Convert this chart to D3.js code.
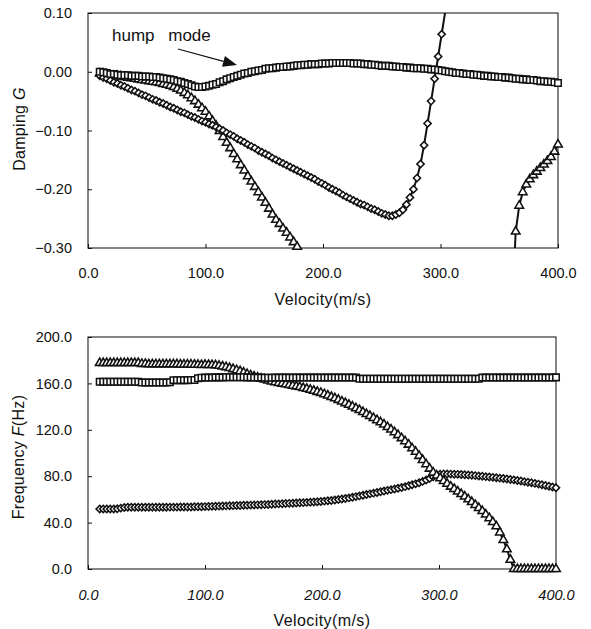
<!DOCTYPE html>
<html><head><meta charset="utf-8">
<script src="https://cdn.jsdelivr.net/npm/d3@7"></script>
<style>
body{margin:0;background:#fff}
svg{display:block;background:#fff}
text{font-family:"Liberation Sans",Arial,Helvetica,sans-serif;fill:#111}
</style>
</head><body>
<svg id="c" width="591" height="629"></svg>
<script>
// ---------------- data ----------------
const velocity = [
10,13,16,19,22,25,28,31,34,37,
40,43,46,49,52,55,58,61,64,67,
70,73,76,79,82,85,88,91,94,97,
100,103,106,109,112,115,118,121,124,127,
130,133,136,139,142,145,148,151,154,157,
160,163,166,169,172,175,178,181,184,187,
190,193,196,199,202,205,208,211,214,217,
220,223,226,229,232,235,238,241,244,247,
250,253,256,259,262,265,268,271,274,277,
280,283,286,289,292,295,298,301,304,307,
310,313,316,319,322,325,328,331,334,337,
340,343,346,349,352,355,358,361,364,367,
370,373,376,379,382,385,388,391,394,397,
400];

// Damping G — hump mode (squares)
const dampSquare = [
0.000,-0.001,-0.002,-0.004,-0.004,-0.005,-0.006,-0.006,-0.006,-0.007,
-0.007,-0.007,-0.008,-0.008,-0.008,-0.009,-0.009,-0.010,-0.011,-0.012,
-0.013,-0.014,-0.016,-0.017,-0.019,-0.021,-0.023,-0.025,-0.026,-0.026,
-0.025,-0.024,-0.022,-0.021,-0.018,-0.016,-0.013,-0.011,-0.009,-0.007,
-0.005,-0.003,-0.002,0.000,0.001,0.002,0.003,0.005,0.006,0.006,
0.007,0.008,0.008,0.009,0.009,0.010,0.011,0.011,0.012,0.012,
0.013,0.013,0.013,0.014,0.014,0.014,0.015,0.015,0.015,0.015,
0.015,0.015,0.014,0.014,0.014,0.013,0.013,0.012,0.012,0.011,
0.010,0.010,0.010,0.009,0.009,0.008,0.008,0.007,0.007,0.006,
0.006,0.006,0.005,0.005,0.004,0.004,0.003,0.002,0.001,0.000,
-0.001,-0.002,-0.002,-0.003,-0.004,-0.004,-0.005,-0.005,-0.006,-0.007,
-0.007,-0.008,-0.008,-0.009,-0.009,-0.010,-0.010,-0.011,-0.012,-0.012,
-0.013,-0.013,-0.014,-0.014,-0.015,-0.016,-0.016,-0.017,-0.017,-0.018,
-0.019];

// Damping G — diamonds
const dampDiamond = [
-0.007,-0.010,-0.012,-0.015,-0.018,-0.020,-0.023,-0.025,-0.028,-0.031,
-0.033,-0.036,-0.039,-0.041,-0.044,-0.047,-0.049,-0.052,-0.054,-0.057,
-0.060,-0.062,-0.065,-0.068,-0.070,-0.073,-0.076,-0.078,-0.081,-0.084,
-0.086,-0.089,-0.091,-0.094,-0.097,-0.100,-0.104,-0.107,-0.110,-0.114,
-0.117,-0.120,-0.124,-0.127,-0.130,-0.134,-0.137,-0.140,-0.143,-0.147,
-0.150,-0.153,-0.156,-0.159,-0.162,-0.165,-0.168,-0.171,-0.174,-0.177,
-0.180,-0.183,-0.187,-0.190,-0.193,-0.197,-0.200,-0.203,-0.206,-0.210,
-0.213,-0.216,-0.219,-0.222,-0.225,-0.227,-0.230,-0.233,-0.235,-0.238,
-0.241,-0.243,-0.245,-0.245,-0.243,-0.240,-0.235,-0.226,-0.214,-0.200,
-0.181,-0.157,-0.125,-0.088,-0.050,-0.012,0.026,0.064,0.102,null,
null,null,null,null,null,null,null,null,null,null,
null,null,null,null,null,null,null,null,null,null,
null,null,null,null,null,null,null,null,null,null,
null];

// Damping G — triangles
const dampTriangle = [
-0.003,-0.004,-0.005,-0.006,-0.007,-0.007,-0.008,-0.009,-0.010,-0.011,
-0.012,-0.013,-0.014,-0.015,-0.016,-0.017,-0.018,-0.019,-0.021,-0.022,
-0.024,-0.026,-0.029,-0.032,-0.036,-0.040,-0.045,-0.050,-0.056,-0.062,
-0.068,-0.076,-0.084,-0.092,-0.101,-0.111,-0.121,-0.130,-0.140,-0.149,
-0.159,-0.168,-0.178,-0.187,-0.196,-0.205,-0.214,-0.223,-0.233,-0.243,
-0.252,-0.259,-0.267,-0.274,-0.282,-0.290,-0.298,-0.306,null,null,
null,null,null,null,null,null,null,null,null,null,
null,null,null,null,null,null,null,null,null,null,
null,null,null,null,null,null,null,null,null,null,
null,null,null,null,null,null,null,null,null,null,
null,null,null,null,null,null,null,null,null,null,
null,null,null,null,null,null,null,-0.400,-0.272,-0.228,
-0.205,-0.192,-0.183,-0.176,-0.170,-0.164,-0.158,-0.152,-0.145,-0.136,
-0.124];

// Frequency F(Hz) — squares
const freqSquare = [
161.5,161.5,161.5,161.5,161.5,161.5,161.5,161.5,161.5,161.5,
161.5,161.5,160.8,160.8,160.8,160.8,160.8,160.8,160.8,160.8,
161.0,162.8,162.8,162.8,162.8,162.8,163.0,163.0,164.5,164.8,
165.0,165.0,165.0,165.2,165.2,165.2,165.3,165.3,165.3,165.3,
165.3,165.3,165.2,165.2,165.0,165.0,165.0,164.8,164.8,164.8,
165.0,165.0,165.0,165.0,165.0,165.0,165.0,165.0,165.0,165.0,
165.0,165.0,165.0,165.0,165.0,165.0,165.0,165.0,165.0,165.0,
165.0,165.0,165.0,165.0,164.0,164.0,164.0,164.0,164.0,164.0,
164.0,164.0,164.0,164.0,164.0,164.0,164.0,164.0,164.0,164.0,
164.0,164.0,164.0,164.0,164.0,164.0,164.0,164.0,164.0,164.0,
164.0,164.0,164.0,164.0,164.0,164.0,164.0,164.0,164.0,165.0,
165.0,165.0,165.0,165.0,165.0,165.0,165.0,165.0,165.0,165.0,
165.0,165.0,165.0,165.0,165.0,165.0,165.0,165.0,165.0,165.0,
165.2];

// Frequency F(Hz) — diamonds
const freqDiamond = [
51.7,51.7,51.7,51.7,51.7,51.9,52.5,53.0,53.2,53.2,
53.2,53.2,53.2,53.2,53.2,53.2,53.2,53.2,53.2,53.2,
53.3,53.3,53.3,53.4,53.4,53.5,53.5,53.6,53.6,53.7,
53.8,53.9,54.0,54.1,54.2,54.3,54.4,54.5,54.6,54.7,
54.8,54.9,55.0,55.1,55.2,55.3,55.4,55.5,55.6,55.8,
56.0,56.1,56.3,56.4,56.6,56.7,56.9,57.1,57.2,57.4,
57.6,57.8,58.0,58.2,58.5,58.8,59.1,59.5,59.9,60.3,
60.8,61.3,61.8,62.4,63.0,63.6,64.2,64.8,65.4,66.0,
66.6,67.2,67.8,68.4,69.0,69.6,70.3,71.0,71.8,72.6,
73.4,74.4,75.5,76.7,78.0,79.4,80.8,81.8,82.0,81.9,
81.8,81.7,81.6,81.4,81.2,81.0,80.8,80.5,80.2,79.9,
79.6,79.3,79.0,78.6,78.3,78.0,77.6,77.2,76.8,76.3,
75.8,75.3,74.8,74.3,73.8,73.2,72.6,72.0,71.4,70.7,
70.0];

// Frequency F(Hz) — triangles
const freqTriangle = [
177.5,177.5,177.5,177.5,177.5,177.5,177.5,177.5,177.5,177.5,
177.5,177.5,176.8,176.8,176.5,176.5,176.5,176.5,176.5,176.5,
176.5,176.5,176.5,176.3,176.3,176.3,176.2,176.1,176.0,175.8,
176.0,175.9,175.8,175.6,175.2,174.6,174.0,173.2,172.3,171.4,
170.5,169.3,168.1,166.9,165.9,165.0,164.1,163.3,162.5,161.7,
161.0,160.4,159.8,159.2,158.6,158.0,157.4,156.8,156.0,155.3,
154.5,153.6,152.7,151.8,150.7,149.5,148.3,147.1,145.8,144.4,
143.0,141.5,140.0,138.5,137.0,135.3,133.6,131.9,130.1,128.3,
126.5,124.5,122.4,120.2,117.9,115.4,112.8,110.1,107.2,104.1,
101.0,97.5,94.0,90.3,86.5,83.2,80.5,78.3,75.9,73.5,
71.0,69.0,66.8,64.6,62.4,60.1,57.7,55.2,52.6,49.9,
47.0,43.8,40.5,36.8,31.5,25.0,17.0,8.0,0.0,0.0,
0.0,0.0,0.0,0.0,0.0,0.0,0.0,0.0,0.0,0.0,
0.0];

const xTicks = [0, 100, 200, 300, 400];
const dampTicks = [0.10, 0.00, -0.10, -0.20, -0.30];
const freqTicks = [0, 40, 80, 120, 160, 200];

// ---------------- drawing ----------------
const svg = d3.select("#c");
svg.append("rect").attr("width",591).attr("height",629).attr("fill","#fff");
const FONT = '"Liberation Sans", Arial, Helvetica, sans-serif';
const INK = "#111";

const symSquare = d3.symbol(d3.symbolSquare, 42)();
const symDiamond = d3.symbol(d3.symbolSquare, 26)();
const symTriangle = d3.symbol(d3.symbolTriangle, 32)();

function panel(o){
  const g = svg.append("g");
  const x = d3.scaleLinear().domain([0,400]).range([o.left,o.right]);
  const y = d3.scaleLinear().domain(o.yDomain).range([o.bottom,o.top]);
  const clipId = o.id + "-clip";
  svg.append("clipPath").attr("id",clipId).append("rect")
    .attr("x",o.left-10).attr("y",o.top).attr("width",o.right-o.left+20).attr("height",o.bottom-o.top);

  g.append("rect").attr("x",o.left).attr("y",o.top)
    .attr("width",o.right-o.left).attr("height",o.bottom-o.top)
    .attr("fill","none").attr("stroke","#222").attr("stroke-width",1.1);

  const xa = d3.axisBottom(x).tickValues(xTicks).tickFormat(d3.format(".1f"))
    .tickSizeInner(-4).tickSizeOuter(0).tickPadding(o.xPad);
  const gx = g.append("g").attr("transform",`translate(0,${o.bottom})`).call(xa);
  gx.select(".domain").remove();
  gx.attr("font-family",FONT).attr("font-size",14.5).attr("color",INK);
  if (o.italicX) gx.selectAll("text").attr("font-style","italic");

  const ya = d3.axisLeft(y).tickValues(o.yTicks).tickFormat(d3.format(o.yFmt))
    .tickSizeInner(-4).tickSizeOuter(0).tickPadding(16);
  const gy = g.append("g").attr("transform",`translate(${o.left},0)`).call(ya);
  gy.select(".domain").remove();
  gy.attr("font-family",FONT).attr("font-size",14.5).attr("color",INK);

  g.append("text").attr("x",(o.left+o.right)/2).attr("y",o.xTitleY)
    .attr("text-anchor","middle").attr("font-size",16).attr("letter-spacing",0.4)
    .text("Velocity(m/s)");
  const yt = g.append("text").attr("transform",`translate(${o.yTitleX},${o.yTitleCY}) rotate(-90)`)
    .attr("text-anchor","middle").attr("font-size",16).attr("letter-spacing",0.3);
  yt.append("tspan").text(o.yTitle[0]);
  yt.append("tspan").attr("font-style","italic").text(o.yTitle[1]);
  yt.append("tspan").text(o.yTitle[2]);

  const [lo,hi] = o.yDomain;
  const line = d3.line().defined(d=>d.val!=null).x(d=>x(d.v)).y(d=>y(d.val));
  const sets = o.series.map(s => ({...s, pts: velocity.map((v,i)=>({v, val:s.values[i]}))}));
  sets.forEach(s => {
    g.append("path").attr("d",line(s.pts)).attr("clip-path",`url(#${clipId})`)
      .attr("fill","none").attr("stroke","#111").attr("stroke-width",2);
  });
  sets.forEach(s => {
    g.append("g").selectAll("path")
      .data(s.pts.filter(d=>d.val!=null && d.val>=lo-1e-9 && d.val<=hi+1e-9))
      .join("path")
      .attr("d",s.sym)
      .attr("transform",d=>`translate(${x(d.v)},${y(d.val)})${s.rot?" rotate(45)":""}`)
      .attr("fill","#fff").attr("stroke","#111").attr("stroke-width",1.55);
  });
  return {x,y,g};
}

const dampPanel = panel({
  id:"damp", left:88, right:558, top:13, bottom:248,
  yDomain:[-0.30,0.10], yTicks:dampTicks, yFmt:".2f",
  xPad:20, italicX:false, xTitleY:305,
  yTitle:["Damping ","G",""], yTitleX:25, yTitleCY:129,
  series:[
    {values:dampTriangle, sym:symTriangle},
    {values:dampDiamond, sym:symDiamond, rot:true},
    {values:dampSquare, sym:symSquare}
  ]
});

panel({
  id:"freq", left:88, right:556, top:337, bottom:569,
  yDomain:[0,200], yTicks:freqTicks, yFmt:".1f",
  xPad:21, italicX:true, xTitleY:626,
  yTitle:["Frequency ","F","(Hz)"], yTitleX:24, yTitleCY:457,
  series:[
    {values:freqDiamond, sym:symDiamond, rot:true},
    {values:freqTriangle, sym:symTriangle},
    {values:freqSquare, sym:symSquare}
  ]
});

// annotation "hump mode" with arrow
const ann = dampPanel.g.append("g");
ann.append("text").attr("x",112).attr("y",41).attr("font-size",17)
  .attr("word-spacing",9).text("hump mode");
const ax0 = 178, ay0 = 49, ax1 = 237, ay1 = 65;
const ang = Math.atan2(ay1-ay0, ax1-ax0);
const hl = 14, hw = 5.5;
const bx = ax1 - hl*Math.cos(ang), by = ay1 - hl*Math.sin(ang);
ann.append("line").attr("x1",ax0).attr("y1",ay0).attr("x2",bx).attr("y2",by)
  .attr("stroke","#111").attr("stroke-width",1.2);
ann.append("path").attr("d",`M${ax1},${ay1}L${bx - hw*Math.sin(ang)},${by + hw*Math.cos(ang)}L${bx + hw*Math.sin(ang)},${by - hw*Math.cos(ang)}Z`)
  .attr("fill","#111");
</script>
</body></html>
